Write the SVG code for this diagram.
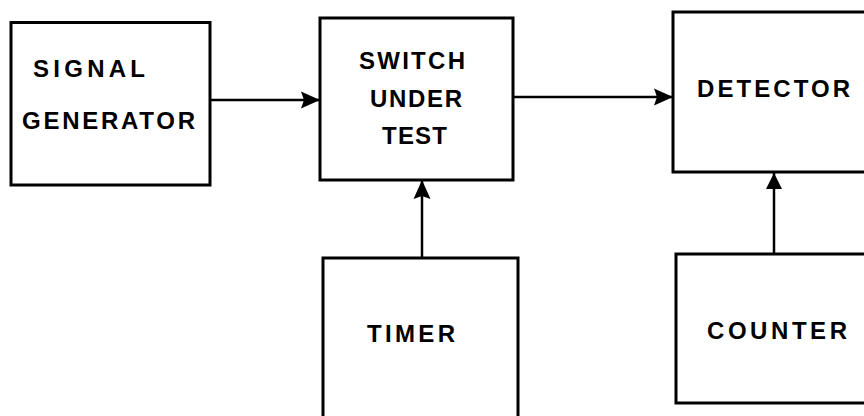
<svg xmlns="http://www.w3.org/2000/svg" width="864" height="416" viewBox="0 0 864 416">
<style>
.box{fill:#fff;stroke:#000;stroke-width:3}
.lbl{font-family:"Liberation Sans",Arial,sans-serif;font-weight:bold;font-size:24px;fill:#000}
.conn{stroke:#000;stroke-width:2.5;fill:none}
</style>
<defs>
<marker id="ah" markerUnits="userSpaceOnUse" markerWidth="22" markerHeight="22" viewBox="0 0 22 22" refX="21" refY="11" orient="auto">
<path d="M2,2.5 L21,11 L2,19.5 L5,11 Z" fill="#000"/>
</marker>
<marker id="ahs" markerUnits="userSpaceOnUse" markerWidth="20" markerHeight="20" viewBox="0 0 20 20" refX="19" refY="10" orient="auto">
<path d="M3,2 L19,10 L3,18 Z" fill="#000"/>
</marker>
</defs>
<rect width="864" height="416" fill="#fff"/>
<g id="connectors">
<line class="conn" x1="210" y1="100" x2="320" y2="100" marker-end="url(#ah)"/>
<line class="conn" x1="513" y1="97" x2="673" y2="97" marker-end="url(#ah)"/>
<line class="conn" x1="422" y1="258" x2="422" y2="180" marker-end="url(#ah)"/>
<line class="conn" x1="774" y1="254" x2="774" y2="173" stroke-width="2" marker-end="url(#ahs)"/>
</g>
<g id="signal-generator">
<rect class="box" x="11" y="22.5" width="199" height="162.5"/>
<text class="lbl" x="33" y="77" textLength="112" lengthAdjust="spacing">SIGNAL</text>
<text class="lbl" x="22" y="129" textLength="173" lengthAdjust="spacing">GENERATOR</text>
</g>
<g id="switch-under-test">
<rect class="box" x="320" y="18" width="193" height="162"/>
<text class="lbl" x="359" y="69" textLength="106" lengthAdjust="spacing">SWITCH</text>
<text class="lbl" x="370" y="107" textLength="92" lengthAdjust="spacing">UNDER</text>
<text class="lbl" x="382" y="144" textLength="65" lengthAdjust="spacing">TEST</text>
</g>
<g id="detector">
<rect class="box" x="673" y="12" width="200" height="160"/>
<text class="lbl" x="697" y="97" textLength="153" lengthAdjust="spacing">DETECTOR</text>
</g>
<g id="timer">
<rect class="box" x="323" y="258" width="195" height="170"/>
<text class="lbl" x="367" y="342" textLength="88" lengthAdjust="spacing">TIMER</text>
</g>
<g id="counter">
<rect class="box" x="676" y="254" width="200" height="149"/>
<text class="lbl" x="707" y="339" textLength="140" lengthAdjust="spacing">COUNTER</text>
</g>
</svg>
